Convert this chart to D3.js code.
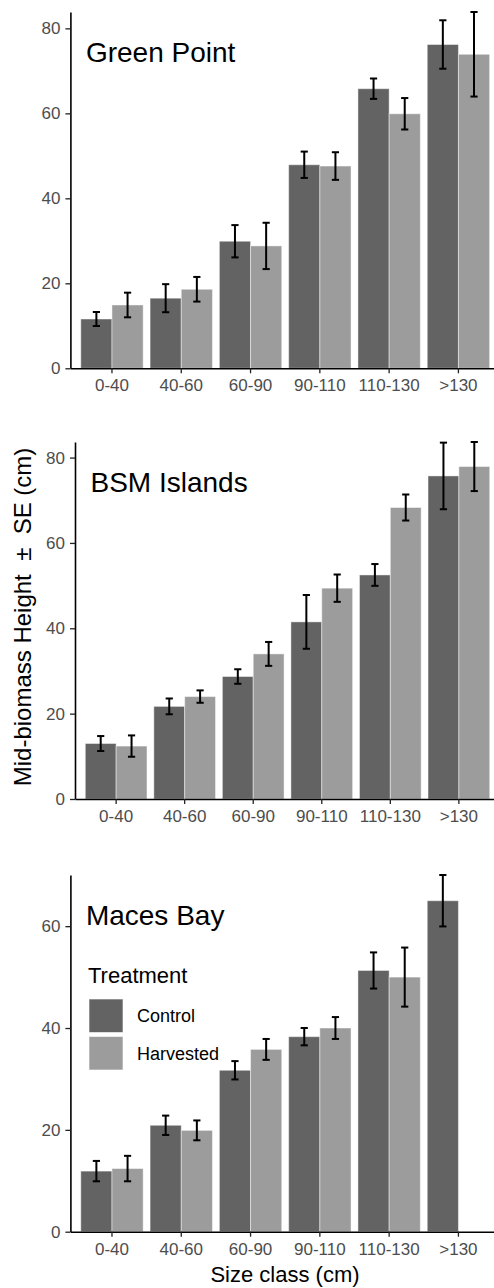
<!DOCTYPE html>
<html>
<head>
<meta charset="utf-8">
<script src="https://cdn.jsdelivr.net/npm/d3@7"></script>
<style>
  html, body { margin: 0; padding: 0; background: #fff; }
  svg { display: block; font-family: "Liberation Sans", Arial, sans-serif; }
</style>
</head>
<body>
<svg id="chart" width="494" height="1288"></svg>
<script>
// ---- Data ----
const categories = ["0-40", "40-60", "60-90", "90-110", "110-130", ">130"];
const treatments = ["Control", "Harvested"];
const sites = ["Green Point", "BSM Islands", "Maces Bay"];
const yTicks = [0, 20, 40, 60, 80];

const gpControl = [11.6, 16.5, 29.9, 47.9, 65.8, 76.2];
const gpControlSE = [1.65, 3.3, 3.8, 3.1, 2.4, 5.7];
const gpHarvested = [14.9, 18.6, 28.8, 47.6, 59.9, 73.9];
const gpHarvestedSE = [2.9, 2.9, 5.45, 3.25, 3.7, 9.95];

const bsmControl = [13.0, 21.7, 28.7, 41.5, 52.5, 75.7];
const bsmControlSE = [1.75, 1.85, 1.7, 6.3, 2.55, 7.8];
const bsmHarvested = [12.4, 24.0, 34.0, 49.4, 68.3, 77.9];
const bsmHarvestedSE = [2.5, 1.45, 2.8, 3.2, 3.05, 5.75];

const mbControl = [11.9, 20.9, 31.7, 38.3, 51.3, 65.0];
const mbControlSE = [2.0, 1.9, 1.8, 1.7, 3.55, 5.05];
const mbHarvested = [12.4, 19.9, 35.8, 40.0, 50.0, null];
const mbHarvestedSE = [2.5, 1.95, 2.05, 2.15, 5.8, null];

const seriesBySite = [
  { Control: [gpControl, gpControlSE], Harvested: [gpHarvested, gpHarvestedSE] },
  { Control: [bsmControl, bsmControlSE], Harvested: [bsmHarvested, bsmHarvestedSE] },
  { Control: [mbControl, mbControlSE], Harvested: [mbHarvested, mbHarvestedSE] }
];

// ---- Layout ----
const colors = { Control: "#636363", Harvested: "#9c9c9c" };
const panels = [
  { left: 70.4, top: 12, bottom: 368.3 },
  { left: 75, top: 442, bottom: 799 },
  { left: 70.4, top: 875, bottom: 1231.7 }
];
const rightEdge = 500;

const svg = d3.select("#chart");

panels.forEach((p, i) => {
  const s = seriesBySite[i];
  const rows = [];
  categories.forEach((c, k) => {
    treatments.forEach(t => {
      const v = s[t][0][k], se = s[t][1][k];
      if (v != null) rows.push({ cat: c, trt: t, v, se });
    });
  });
  const ymax = d3.max(rows, d => d.v + d.se);

  const x = d3.scaleBand().domain(categories).range([p.left, rightEdge])
    .paddingInner(0.1).paddingOuter(0.15);
  const xs = d3.scaleBand().domain(treatments).range([0, x.bandwidth()]);
  const y = d3.scaleLinear().domain([0, ymax]).range([p.bottom, p.top]);

  const g = svg.append("g");

  // bars
  g.selectAll("rect.bar").data(rows).join("rect")
    .attr("class", "bar")
    .attr("x", d => x(d.cat) + xs(d.trt))
    .attr("width", xs.bandwidth())
    .attr("y", d => y(d.v))
    .attr("height", d => y(0) - y(d.v))
    .attr("fill", d => colors[d.trt])
    .attr("stroke", "#ffffff")
    .attr("stroke-opacity", 0.45)
    .attr("stroke-width", 1);

  // error bars
  const capW = 3.6;
  const eb = g.selectAll("g.err").data(rows).join("g").attr("class", "err")
    .attr("stroke", "#000").attr("stroke-width", 2).attr("fill", "none");
  eb.append("line")
    .attr("x1", d => x(d.cat) + xs(d.trt) + xs.bandwidth() / 2)
    .attr("x2", d => x(d.cat) + xs(d.trt) + xs.bandwidth() / 2)
    .attr("y1", d => y(d.v + d.se)).attr("y2", d => y(d.v - d.se));
  eb.append("line")
    .attr("x1", d => x(d.cat) + xs(d.trt) + xs.bandwidth() / 2 - capW)
    .attr("x2", d => x(d.cat) + xs(d.trt) + xs.bandwidth() / 2 + capW)
    .attr("y1", d => y(d.v + d.se)).attr("y2", d => y(d.v + d.se));
  eb.append("line")
    .attr("x1", d => x(d.cat) + xs(d.trt) + xs.bandwidth() / 2 - capW)
    .attr("x2", d => x(d.cat) + xs(d.trt) + xs.bandwidth() / 2 + capW)
    .attr("y1", d => y(d.v - d.se)).attr("y2", d => y(d.v - d.se));

  // axes
  const yAxis = d3.axisLeft(y).tickValues(yTicks.filter(t => t <= ymax))
    .tickSize(5).tickPadding(5).tickSizeOuter(0).tickFormat(d3.format("d"));
  const ya = g.append("g").attr("transform", `translate(${p.left},0)`).call(yAxis);
  const xAxis = d3.axisBottom(x).tickSize(5).tickPadding(6).tickSizeOuter(0);
  const xa = g.append("g").attr("transform", `translate(0,${p.bottom})`).call(xAxis);
  [ya, xa].forEach(a => {
    a.select(".domain").attr("stroke", "#000").attr("stroke-width", 1.6);
    a.selectAll(".tick line").attr("stroke", "#222").attr("stroke-width", 1.3);
    a.selectAll(".tick text").attr("fill", "#4d4d4d").style("font-size", "17px")
      .style("font-family", "Liberation Sans, Arial, sans-serif");
  });

  // panel title
  g.append("text")
    .attr("x", p.left + 15.5).attr("y", p.top + 49.5)
    .attr("fill", "#000").style("font-size", "28px")
    .text(sites[i]);

  // legend in the last panel
  if (i === 2) {
    const lg = g.append("g");
    lg.append("text").attr("x", 88).attr("y", 983)
      .style("font-size", "22px").attr("fill", "#000").text("Treatment");
    treatments.forEach((t, j) => {
      const yy = 999 + j * 37.5;
      lg.append("rect").attr("x", 89).attr("y", yy).attr("width", 34).attr("height", 33.5)
        .attr("fill", colors[t]).attr("stroke", "#ffffff").attr("stroke-opacity", 0.6);
      lg.append("text").attr("x", 137).attr("y", yy + 17).attr("dy", "0.35em")
        .style("font-size", "18px").attr("fill", "#000").text(t);
    });
  }
});

// axis titles
svg.append("text")
  .attr("transform", "translate(30.5,617) rotate(-90)")
  .attr("text-anchor", "middle")
  .style("font-size", "24px").attr("fill", "#000")
  .style("white-space", "pre")
  .text("Mid-biomass Height \u00a0\u00b1\u00a0 SE (cm)");

svg.append("text")
  .attr("x", 285).attr("y", 1282)
  .attr("text-anchor", "middle")
  .style("font-size", "22px").attr("fill", "#000")
  .text("Size class (cm)");
</script>
</body>
</html>
